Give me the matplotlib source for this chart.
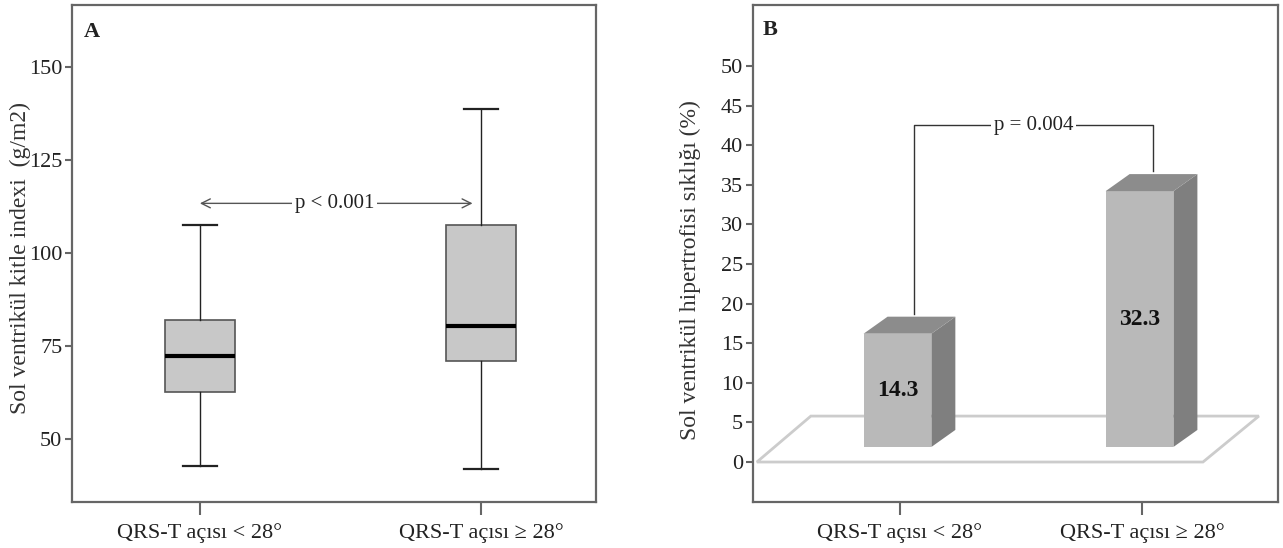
import numpy as np
import matplotlib
matplotlib.use("Agg")
import matplotlib.pyplot as plt
from matplotlib.patches import Polygon

plt.rcParams["font.family"] = ["Liberation Serif", "DejaVu Serif"]

# data
groups = ["QRS-T açısı < 28°", "QRS-T açısı ≥ 28°"]
lvmi_whislo = [42.7, 42.0]
lvmi_q1 = [62.7, 71.0]
lvmi_med = [72.4, 80.4]
lvmi_q3 = [81.9, 107.7]
lvmi_whishi = [107.5, 138.7]
p_lvmi = "p < 0.001"

lvh_pct = [14.3, 32.3]
p_lvh = "p = 0.004"

ticks_a = [50, 75, 100, 125, 150]
ticks_b = list(range(0, 55, 5))

fig = plt.figure(figsize=(12.83, 5.48), dpi=100)
axA = fig.add_axes([0.0561, 0.0839, 0.4084, 0.907])
axB = fig.add_axes([0.5869, 0.0839, 0.4092, 0.907])

spine_col = "#666666"
text_col = "#222222"
for ax in (axA, axB):
    for s in ax.spines.values():
        s.set_color(spine_col)
        s.set_linewidth(1.6)
    ax.tick_params(axis="y", length=5, width=1.5, color=spine_col,
                   labelsize=16, labelcolor=text_col, pad=2)
    ax.tick_params(axis="x", length=9, width=1.5, color=spine_col,
                   labelsize=16, labelcolor=text_col, pad=6)

# ---- panel A : box plot
stats = []
for g, lo, a, m, b, hi in zip(groups, lvmi_whislo, lvmi_q1, lvmi_med, lvmi_q3, lvmi_whishi):
    stats.append(dict(label=g, whislo=lo, q1=a, med=m, q3=b, whishi=hi, fliers=[]))

pos = [1, 2]
axA.bxp(stats, positions=pos, widths=0.25, patch_artist=True, showfliers=False,
        capwidths=0.12,
        boxprops=dict(facecolor="#c8c8c8", edgecolor="#555555", linewidth=1.2),
        medianprops=dict(color="black", linewidth=3),
        whiskerprops=dict(color="#222222", linewidth=1),
        capprops=dict(color="#222222", linewidth=1.6))
axA.set_xlim(0.545, 2.409)
axA.set_ylim(33, 166.8)
axA.set_yticks(ticks_a)
axA.set_xticks(pos)
axA.set_xticklabels(groups)
axA.set_ylabel("Sol ventrikül kitle indexi  (g/m2)", fontsize=17, color="#333333")
axA.yaxis.label.set_va("center")
axA.yaxis.set_label_coords(-0.099, 0.49)

y_arrow = 113.4
axA.annotate("", xy=(pos[0], y_arrow), xytext=(pos[1] - 0.03, y_arrow),
             arrowprops=dict(arrowstyle="<->", color="#555555", lw=1,
                             shrinkA=0, shrinkB=0, mutation_scale=16))
axA.text(1.48, y_arrow, p_lvmi, ha="center", va="center", fontsize=15, color=text_col,
         bbox=dict(facecolor="white", edgecolor="none", pad=2))
axA.text(0.023, 0.965, "A", transform=axA.transAxes, fontsize=16, fontweight="bold",
         va="top", ha="left", color=text_col)

# ---- panel B : pseudo 3D bars
front_w = 0.28
dx, dy = 0.099, 2.15
base = 1.9

# floor
floor = Polygon([(0.409, 0), (2.252, 0), (2.483, 5.8), (0.632, 5.8)], closed=True,
                fill=False, edgecolor="#cccccc", linewidth=2, zorder=1)
axB.add_patch(floor)

tops = []
for x, v in zip(pos, lvh_pct):
    x0 = x - 0.15
    x1 = x0 + front_w
    y0, y1 = base, base + v
    front = Polygon([(x0, y0), (x1, y0), (x1, y1), (x0, y1)], fc="#b9b9b9", ec="none", zorder=3)
    side = Polygon([(x1, y0), (x1 + dx, y0 + dy), (x1 + dx, y1 + dy), (x1, y1)],
                   fc="#7f7f7f", ec="none", zorder=3)
    top = Polygon([(x0, y1), (x1, y1), (x1 + dx, y1 + dy), (x0 + dx, y1 + dy)],
                  fc="#8c8c8c", ec="none", zorder=3)
    for p in (front, side, top):
        axB.add_patch(p)
    axB.text((x0 + x1) / 2, base + v / 2, f"{v:.1f}", ha="center", va="center",
             fontsize=17, fontweight="bold", color="#111111", zorder=4)
    tops.append(y1 + dy + 0.4)

y_br = 42.5
bx = [pos[0] + 0.06, pos[1] + 0.045]
axB.plot([bx[0], bx[0], bx[1], bx[1]], [tops[0], y_br, y_br, tops[1]],
         color="#333333", lw=1, zorder=2)
axB.text(sum(bx) / 2, y_br, p_lvh, ha="center", va="center", fontsize=15, color=text_col,
         bbox=dict(facecolor="white", edgecolor="none", pad=2), zorder=4)

axB.set_xlim(0.393, 2.562)
axB.set_ylim(-5.05, 57.7)
axB.set_yticks(ticks_b)
axB.set_xticks(pos)
axB.set_xticklabels(groups)
axB.set_ylabel("Sol ventrikül hipertrofisi sıklığı (%)", fontsize=17, color="#333333")
axB.yaxis.label.set_va("center")
axB.yaxis.set_label_coords(-0.12, 0.467)
axB.text(0.019, 0.97, "B", transform=axB.transAxes, fontsize=16, fontweight="bold",
         va="top", ha="left", color=text_col)

fig.savefig("out.png", dpi=100)
